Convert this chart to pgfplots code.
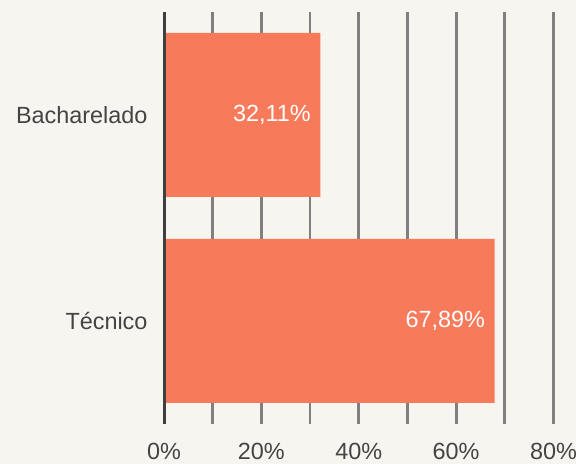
\documentclass[border=0pt]{standalone}
\usepackage{fontspec}
\setmainfont{Liberation Sans}
\usepackage{pgfplots}
\pgfplotsset{compat=1.18}
\definecolor{bg}{HTML}{F6F5EF}
\definecolor{barc}{HTML}{F77B5B}
\definecolor{gridc}{HTML}{808080}
\definecolor{axc}{HTML}{3F3F3F}
\definecolor{txt}{HTML}{444444}
\begin{document}
\begin{tikzpicture}[x=1bp,y=1bp]
\fill[bg] (0,0) rectangle (576,464);
\useasboundingbox (0,0) rectangle (576,464);
\begin{axis}[
  at={(164bp,40bp)}, anchor=south west,
  scale only axis, width=389.5bp, height=412bp,
  xbar, bar width=164bp,
  xmin=0, xmax=80, ymin=-0.5, ymax=1.5,
  xtick={0,20,40,60,80},
  minor xtick={10,30,50,70},
  xticklabel={\pgfmathprintnumber{\tick}\%},
  ytick={0,1}, yticklabels={Técnico,Bacharelado},
  xmajorgrids, xminorgrids,
  grid style={draw=gridc, line width=2.8bp},
  minor grid style={draw=gridc, line width=2.8bp},
  major tick length=0pt, minor tick length=0pt,
  axis line style={draw=none},
  ticklabel style={font=\fontsize{23.5}{27}\selectfont, text=txt},
  /pgf/number format/assume math mode=true,
  xticklabel style={yshift=-16bp},
  yticklabel style={xshift=-13bp},
  nodes near coords={\pgfmathprintnumber[fixed,fixed zerofill,precision=2,use comma]{\pgfplotspointmeta}\%},
  nodes near coords align={anchor=east},
  every node near coord/.append style={font=\fontsize{23.5}{27}\selectfont, text=white, anchor=east, xshift=-6bp, /pgf/number format/assume math mode=true},
  clip=false,
]
\addplot[fill=barc, draw=none] coordinates {(67.89,0) (32.11,1)};
\draw[axc, line width=3bp] (axis cs:0,-0.5) -- (axis cs:0,1.5);
\end{axis}
\end{tikzpicture}
\end{document}
